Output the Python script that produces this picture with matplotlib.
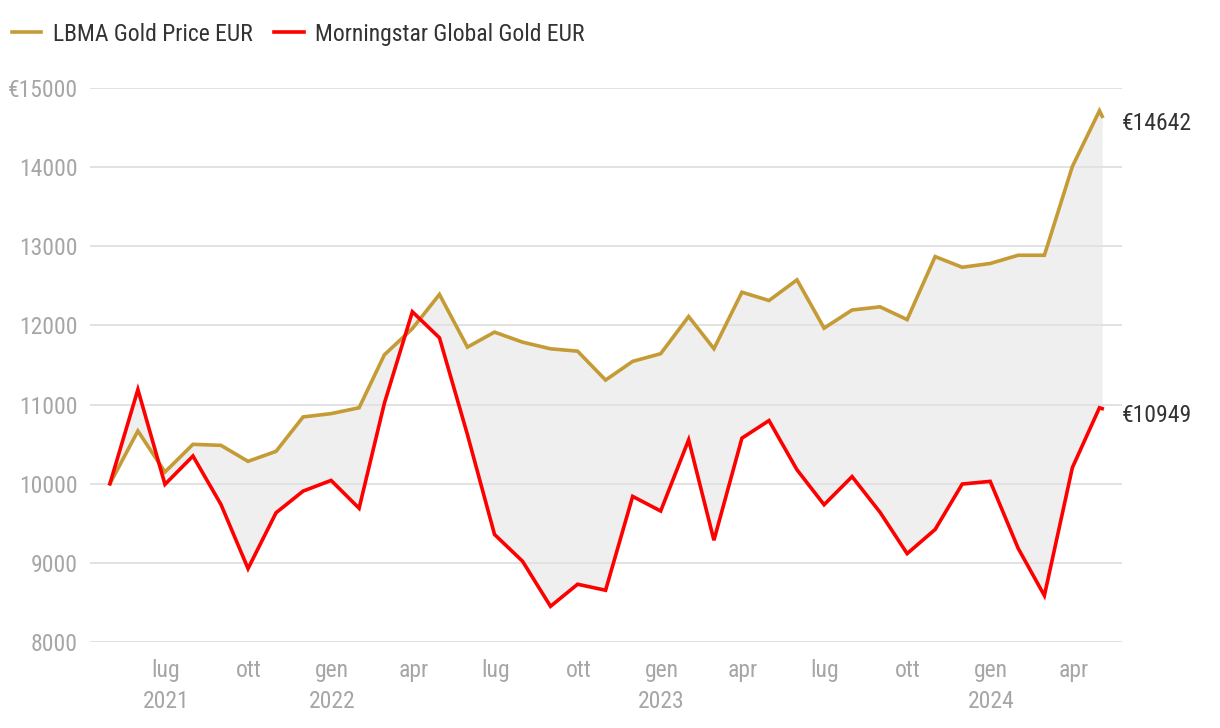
import datetime as dt

import matplotlib
matplotlib.use("Agg")
import matplotlib.dates as mdates
import matplotlib.pyplot as plt
from matplotlib.ticker import FixedLocator, FixedFormatter

plt.rcParams["font.family"] = ["Roboto Condensed", "Liberation Sans Narrow", "Roboto", "DejaVu Sans"]

# month-end closes, last point is a few days into May 2024
dates = [
    "2021-04-30", "2021-05-31", "2021-06-30", "2021-07-31", "2021-08-31", "2021-09-30",
    "2021-10-31", "2021-11-30", "2021-12-31", "2022-01-31", "2022-02-28", "2022-03-31",
    "2022-04-30", "2022-05-31", "2022-06-30", "2022-07-31", "2022-08-31", "2022-09-30",
    "2022-10-31", "2022-11-30", "2022-12-31", "2023-01-31", "2023-02-28", "2023-03-31",
    "2023-04-30", "2023-05-31", "2023-06-30", "2023-07-31", "2023-08-31", "2023-09-30",
    "2023-10-31", "2023-11-30", "2023-12-31", "2024-01-31", "2024-02-29", "2024-03-31",
    "2024-04-30", "2024-05-03",
]
gold = [
    10000, 10667, 10148, 10498, 10485, 10283, 10409, 10844, 10886, 10960,
    11629, 11960, 12392, 11726, 11916, 11789, 11705, 11675, 11310, 11546,
    11643, 12113, 11706, 12420, 12315, 12576, 11966, 12195, 12235, 12074,
    12870, 12735, 12783, 12887, 12887, 14009, 14713, 14642,
]
fund = [
    10000, 11190, 9992, 10350, 9738, 8928, 9633, 9907, 10042, 9690,
    11017, 12173, 11844, 10620, 9359, 9021, 8451, 8730, 8654, 9840,
    9655, 10555, 9286, 10576, 10798, 10176, 9735, 10090, 9639, 9117,
    9422, 9996, 10030, 9183, 8587, 10204, 10960, 10949,
]
series_names = ["LBMA Gold Price EUR", "Morningstar Global Gold EUR"]

tick_dates = [
    "2021-07-01", "2021-10-01", "2022-01-01", "2022-04-01", "2022-07-01", "2022-10-01",
    "2023-01-01", "2023-04-01", "2023-07-01", "2023-10-01", "2024-01-01", "2024-04-01",
]
tick_labels = [
    "lug\n2021", "ott", "gen\n2022", "apr", "lug", "ott",
    "gen\n2023", "apr", "lug", "ott", "gen\n2024", "apr",
]
y_ticks = [8000, 9000, 10000, 11000, 12000, 13000, 14000, 15000]
y_labels = ["8000", "9000", "10000", "11000", "12000", "13000", "14000", "€15000"]

GOLD = "#C49B35"
RED = "#FF0000"
GRID = "#e2e2e2"
TICK_GREY = "#a6a6a6"
TEXT = "#333333"

x = [dt.datetime.strptime(d, "%Y-%m-%d") for d in dates]
xt = [mdates.date2num(dt.datetime.strptime(d, "%Y-%m-%d")) for d in tick_dates]

fig = plt.figure(figsize=(12.2, 7.28), dpi=100)
ax = fig.add_axes([0.0738, 0.1181, 0.8459, 0.7610])

ax.fill_between(x, gold, fund, color="#efefef", linewidth=0, zorder=1)
l1, = ax.plot(x, gold, color=GOLD, lw=2.6, zorder=3, solid_joinstyle="miter")
l2, = ax.plot(x, fund, color=RED, lw=2.6, zorder=3, solid_joinstyle="miter")

ax.set_ylim(8000, 15000)
ax.set_xlim(mdates.date2num(x[0]) - 22, mdates.date2num(x[-1]) + 22)

ax.yaxis.set_major_locator(FixedLocator(y_ticks))
ax.yaxis.set_major_formatter(FixedFormatter(y_labels))
ax.xaxis.set_major_locator(FixedLocator(xt))
ax.xaxis.set_major_formatter(FixedFormatter(tick_labels))

ax.grid(axis="y", color=GRID, lw=1.4, zorder=2)
ax.grid(axis="x", visible=False)
for s in ax.spines.values():
    s.set_visible(False)
ax.tick_params(axis="both", length=0, labelsize=17, labelcolor=TICK_GREY)
ax.tick_params(axis="y", pad=9)
ax.tick_params(axis="x", pad=12)
for lab in ax.get_xticklabels():
    lab.set_linespacing(1.45)

# end-of-series value labels
for v in (gold[-1], fund[-1]):
    ax.annotate(f"€{v}", xy=(1.0, v), xycoords=("axes fraction", "data"),
                xytext=(0, -5), textcoords="offset points",
                ha="left", va="center", fontsize=17, color=TEXT)

fig.legend([l1, l2], series_names, loc="upper left", bbox_to_anchor=(0.0, 0.985),
           ncol=2, frameon=False, fontsize=17, handlelength=1.25, handletextpad=0.5,
           columnspacing=0.9, labelcolor=TEXT, borderaxespad=0.3, borderpad=0.2)

fig.savefig("out.png", dpi=100)
